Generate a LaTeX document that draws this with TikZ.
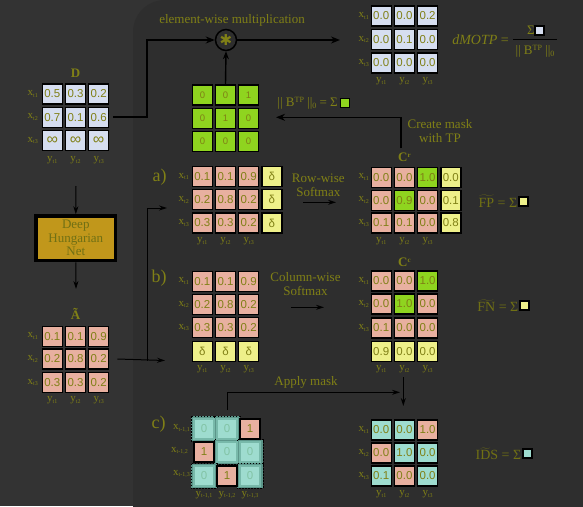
\documentclass[tikz,border=0pt]{standalone}
\usepackage{fontspec}
\setmainfont{Liberation Serif}
\newfontfamily\numfont{Liberation Sans}
\newfontfamily\symfont{DejaVu Sans}
\usetikzlibrary{arrows.meta}
\definecolor{olive}{RGB}{128,128,22}
\definecolor{olivedk}{RGB}{112,112,20}
\definecolor{bgout}{RGB}{51,51,51}
\definecolor{bgin}{RGB}{46,46,46}
\definecolor{cblue}{RGB}{214,222,240}
\definecolor{cpink}{RGB}{232,176,160}
\definecolor{cgreen}{RGB}{143,212,31}
\definecolor{cyel}{RGB}{238,240,138}
\definecolor{cteal}{RGB}{158,220,207}
\definecolor{tealbd}{RGB}{120,185,170}
\definecolor{tealbg}{RGB}{92,150,138}
\definecolor{tealtx}{RGB}{130,195,165}
\definecolor{gold}{RGB}{193,151,27}
\newcommand\xlab[1]{x\raisebox{-1.8pt}{\fontsize{6}{6}\selectfont #1}}
\newcommand\ylab[1]{y\raisebox{-1.8pt}{\fontsize{6}{6}\selectfont #1}}
\newcommand\infy{{\fontsize{16}{16}\selectfont ∞}}
\newcommand\mrow[4]{%
  \foreach \cc/\vv [count=\j] in {#4} {\node[cell, fill=\cc] (#1\j) at ({#2+(\j-1)*23.2},#3) {\vv};}}
\tikzset{
  cell/.style={draw=black, line width=1.4pt, minimum size=20pt, inner sep=0pt, text=olive,
    font=\numfont\fontsize{11.5}{12}\selectfont},
  lbl/.style={text=olive, inner sep=0pt, font=\fontsize{13}{15}\selectfont},
  big/.style={text=olive, inner sep=0pt, font=\fontsize{18}{20}\selectfont},
  xl/.style={text=olive, inner sep=0pt, anchor=east, font=\fontsize{11}{12}\selectfont},
  yl/.style={text=olive, inner sep=0pt, font=\fontsize{11}{12}\selectfont},
  sq/.style={draw=black, line width=1.8pt, minimum size=9pt, inner sep=0pt},
  tarr/.style={-{Stealth[length=9pt,width=7pt]}, line width=2pt},
  marr/.style={-{Stealth[length=8pt,width=6pt]}, line width=1.4pt},
  narr/.style={-{Stealth[length=8pt,width=5pt]}, line width=1pt},
}
\begin{document}
\begin{tikzpicture}[x=1pt,y=-1pt]
\begin{scope}
\clip (0,0) rectangle (583,506);
\fill[bgout] (0,0) rectangle (583,506);
\fill[bgin, rounded corners=32pt] (133,560) -- (133,0) -- (640,0) -- (640,560) -- cycle;
\end{scope}
\useasboundingbox (0,0) rectangle (583,506);

% ---------- D ----------
\node[lbl, font=\fontsize{13}{15}\selectfont\bfseries] (Dt) at (75.5,73) {D};
\mrow{D1-}{52.3}{93.8}{cblue/0.5,cblue/0.3,cblue/0.2}
\mrow{D2-}{52.3}{117.2}{cblue/0.7,cblue/0.1,cblue/0.6}
\mrow{D3-}{52.3}{140.5}{cblue/\infy,cblue/\infy,cblue/\infy}
\node[xl] (Dx1) at (38,93.8) {\xlab{t1}};
\node[xl] (Dx2) at (38,117.2) {\xlab{t2}};
\node[xl] (Dx3) at (38,140.5) {\xlab{t3}};
\node[yl] (Dy1) at (52.3,160) {\ylab{t1}};
\node[yl] (Dy2) at (75.5,160) {\ylab{t2}};
\node[yl] (Dy3) at (98.7,160) {\ylab{t3}};

% ---------- Deep Hungarian Net ----------
\node[draw=black, line width=3.5pt, fill=gold, minimum width=79.5pt, minimum height=44.5pt,
  inner sep=0pt, align=center, text=olivedk, font=\fontsize{13}{13.5}\selectfont] (dhn) at (75.8,238.3)
  {Deep\\Hungarian\\Net};
\coordinate (a0s) at (76,186);
\draw[narr] (a0s) -- (dhn.north);
\coordinate (a1e) at (76,289);
\draw[narr] (dhn.south) -- (a1e);

% ---------- A tilde ----------
\node[lbl, font=\fontsize{13}{15}\selectfont\bfseries] (At) at (75.5,314) {Ã};
\mrow{A1-}{52.3}{336.2}{cpink/0.1,cpink/0.1,cpink/0.9}
\mrow{A2-}{52.3}{359}{cpink/0.2,cpink/0.8,cpink/0.2}
\mrow{A3-}{52.3}{382.4}{cpink/0.3,cpink/0.3,cpink/0.2}
\node[xl] (Ax1) at (38,336.2) {\xlab{t1}};
\node[xl] (Ax2) at (38,359) {\xlab{t2}};
\node[xl] (Ax3) at (38,382.4) {\xlab{t3}};
\node[yl] (Ay1) at (52.3,400) {\ylab{t1}};
\node[yl] (Ay2) at (75.5,400) {\ylab{t2}};
\node[yl] (Ay3) at (98.7,400) {\ylab{t3}};

% ---------- multiplication ----------
\node[lbl] (ewm) at (232,20) {element-wise multiplication};
\node[circle, draw=black, line width=1.5pt, fill=bgin, minimum size=21pt, inner sep=0pt,
  text=olive, font=\symfont\bfseries\fontsize{15}{15}\selectfont] (mul) at (226,40) {✱};
\coordinate (j1) at (147,40);
\draw[tarr] ([xshift=4pt]D2-3.east) -| (j1) -- (mul.west);
\coordinate (rin) at (340,40);
\draw[tarr] (mul.east) -- (rin);

% ---------- green mask ----------
\tikzset{gcell/.style={cell, fill=cgreen, font=\numfont\fontsize{9.5}{10}\selectfont}}
\foreach \vv [count=\j] in {0,0,1} {\node[gcell] (M1-\j) at ({202.5+(\j-1)*23},95) {\vv};}
\foreach \vv [count=\j] in {0,1,0} {\node[gcell] (M2-\j) at ({202.5+(\j-1)*23},118.2) {\vv};}
\foreach \vv [count=\j] in {0,0,0} {\node[gcell] (M3-\j) at ({202.5+(\j-1)*23},141.5) {\vv};}
\draw[marr] (M1-2.north) -- (mul.south);
\node[lbl, anchor=east] (btp) at (338,103) {|| B\raisebox{4pt}{\fontsize{8}{8}\selectfont TP} ||\raisebox{-2pt}{\fontsize{8}{8}\selectfont 0} = Σ};
\node[sq, fill=cgreen] (btpsq) at (345,103) {};

% ---------- top result ----------
\mrow{R1-}{381.2}{16}{cblue/0.0,cblue/0.0,cblue/0.2}
\mrow{R2-}{381.2}{39.5}{cblue/0.0,cblue/0.1,cblue/0.0}
\mrow{R3-}{381.2}{63}{cblue/0.0,cblue/0.0,cblue/0.0}
\node[xl] (Rx1) at (369,16) {\xlab{t1}};
\node[xl] (Rx2) at (369,39.5) {\xlab{t2}};
\node[xl] (Rx3) at (369,63) {\xlab{t3}};
\node[yl] (Ry1) at (381.2,81) {\ylab{t1}};
\node[yl] (Ry2) at (404.4,81) {\ylab{t2}};
\node[yl] (Ry3) at (427.6,81) {\ylab{t3}};
\node[lbl, anchor=east, font=\fontsize{14}{16}\selectfont] (dmotp) at (509,40) {\textit{dMOTP} =};
\node[lbl] (num) at (531,30) {Σ};
\node[sq, fill=cblue] (numsq) at (539.5,30.5) {};
\coordinate (barl) at (513,39.5);
\coordinate (barr) at (557,39.5);
\draw[black, line width=0.9pt] (barl) -- (barr);
\node[lbl] (den) at (535,51) {|| B\raisebox{4pt}{\fontsize{8}{8}\selectfont TP} ||\raisebox{-2pt}{\fontsize{8}{8}\selectfont 0}};

% ---------- create mask ----------
\node[lbl, align=center, font=\fontsize{13}{14}\selectfont] (cmask) at (440,131) {Create mask\\with TP};
\coordinate (cr0) at (401,148);
\coordinate (mk) at (276,117.3);
\draw[tarr, line width=1.6pt] (cr0) |- (mk);

% ---------- a) ----------
\node[big] (la) at (159.5,177) {a)};
\mrow{P1-}{202.3}{176.5}{cpink/0.1,cpink/0.1,cpink/0.9,cyel/δ}
\mrow{P2-}{202.3}{199.7}{cpink/0.2,cpink/0.8,cpink/0.2,cyel/δ}
\mrow{P3-}{202.3}{223}{cpink/0.3,cpink/0.3,cpink/0.2,cyel/δ}
\node[xl] (Px1) at (189,176.5) {\xlab{t1}};
\node[xl] (Px2) at (189,199.7) {\xlab{t2}};
\node[xl] (Px3) at (189,223) {\xlab{t3}};
\node[yl] (Py1) at (202.3,241) {\ylab{t1}};
\node[yl] (Py2) at (225.5,241) {\ylab{t2}};
\node[yl] (Py3) at (248.7,241) {\ylab{t3}};
\node[lbl, align=center, font=\fontsize{13}{14.5}\selectfont] (rws) at (318.3,185.5) {Row-wise\\Softmax};
\coordinate (sa1) at (303,202.3);
\coordinate (sa2) at (336,202.3);
\draw[narr] (sa1) -- (sa2);

% ---------- C^r ----------
\node[lbl, font=\fontsize{13}{15}\selectfont\bfseries] (crt) at (404.4,157) {C\raisebox{4pt}{\fontsize{7}{7}\selectfont r}};
\mrow{C1-}{381.2}{177.2}{cpink/0.0,cpink/0.0,cgreen/1.0,cyel/0.0}
\mrow{C2-}{381.2}{200.2}{cpink/0.0,cgreen/0.9,cpink/0.0,cyel/0.1}
\mrow{C3-}{381.2}{223}{cpink/0.1,cpink/0.1,cpink/0.0,cyel/0.8}
\node[xl] (Cx1) at (369,177.2) {\xlab{t1}};
\node[xl] (Cx2) at (369,200.2) {\xlab{t2}};
\node[xl] (Cx3) at (369,223) {\xlab{t3}};
\node[yl] (Cy1) at (381.2,241) {\ylab{t1}};
\node[yl] (Cy2) at (404.4,241) {\ylab{t2}};
\node[yl] (Cy3) at (427.6,241) {\ylab{t3}};
\node[lbl, anchor=east, text=olivedk, font=\fontsize{14}{16}\selectfont] (fp) at (517.5,201.3) {$\widetilde{\textrm{FP}}$ = Σ};
\node[sq, fill=cyel] (fpsq) at (523.8,201.3) {};

% ---------- b) ----------
\node[big] (lb) at (159,278) {b)};
\mrow{Q1-}{202.3}{281.2}{cpink/0.1,cpink/0.1,cpink/0.9}
\mrow{Q2-}{202.3}{304.4}{cpink/0.2,cpink/0.8,cpink/0.2}
\mrow{Q3-}{202.3}{327.6}{cpink/0.3,cpink/0.3,cpink/0.2}
\mrow{Q4-}{202.3}{351.5}{cyel/δ,cyel/δ,cyel/δ}
\node[xl] (Qx1) at (189,281.2) {\xlab{t1}};
\node[xl] (Qx2) at (189,304.4) {\xlab{t2}};
\node[xl] (Qx3) at (189,327.6) {\xlab{t3}};
\node[yl] (Qy1) at (202.3,369) {\ylab{t1}};
\node[yl] (Qy2) at (225.5,369) {\ylab{t2}};
\node[yl] (Qy3) at (248.7,369) {\ylab{t3}};
\node[lbl, align=center, font=\fontsize{13}{14}\selectfont] (cws) at (305.5,284.5) {Column-wise\\Softmax};
\coordinate (sb1) at (291,307.3);
\coordinate (sb2) at (324,307.3);
\draw[narr] (sb1) -- (sb2);

% ---------- C^c ----------
\node[lbl, font=\fontsize{13}{15}\selectfont\bfseries] (cct) at (404.4,262) {C\raisebox{4pt}{\fontsize{7}{7}\selectfont c}};
\mrow{K1-}{381.2}{281}{cpink/0.0,cpink/0.0,cgreen/1.0}
\mrow{K2-}{381.2}{304}{cpink/0.0,cgreen/1.0,cpink/0.0}
\mrow{K3-}{381.2}{327.8}{cpink/0.1,cpink/0.0,cpink/0.0}
\mrow{K4-}{381.2}{351.5}{cyel/0.9,cyel/0.0,cyel/0.0}
\node[xl] (Kx1) at (369,281) {\xlab{t1}};
\node[xl] (Kx2) at (369,304) {\xlab{t2}};
\node[xl] (Kx3) at (369,327.8) {\xlab{t3}};
\node[yl] (Ky1) at (381.2,369) {\ylab{t1}};
\node[yl] (Ky2) at (404.4,369) {\ylab{t2}};
\node[yl] (Ky3) at (427.6,369) {\ylab{t3}};
\node[lbl, anchor=east, text=olivedk, font=\fontsize{14}{16}\selectfont] (fn) at (518.5,305.7) {$\widetilde{\textrm{FN}}$ = Σ};
\node[sq, fill=cyel] (fnsq) at (524.7,305.7) {};

% ---------- left connectors ----------
\coordinate (bj) at (147,360.5);
\coordinate (bend) at (165,360.5);
\coordinate (aend) at (167,208);
\draw[narr] ([xshift=8pt]A2-3.east) -- (bend);
\draw[narr] (bj) |- (aend);

% ---------- c) ----------
\node[big] (lc) at (158.5,424) {c)};
\foreach \cx/\cy in {204/428.8, 227/428.8, 227/452, 250/452, 204/476, 250/476} {
  \fill[tealbg] (\cx-12.8,\cy-12.4) rectangle (\cx+12.8,\cy+12.4);
  \draw[black, dashed, line width=0.5pt, dash pattern=on 1.5pt off 1.5pt] (\cx-12.8,\cy-12.4) rectangle (\cx+12.8,\cy+12.4);
}
\tikzset{tcell/.style={cell, fill=cteal, draw=tealbd, text=tealtx}}
\node[tcell] (G1-1) at (204,428.8) {0};
\node[tcell] (G1-2) at (227,428.8) {0};
\node[cell, fill=cpink] (G1-3) at (250,428.8) {1};
\node[cell, fill=cpink] (G2-1) at (204,452) {1};
\node[tcell] (G2-2) at (227,452) {0};
\node[tcell] (G2-3) at (250,452) {0};
\node[tcell] (G3-1) at (204,476) {0};
\node[cell, fill=cpink] (G3-2) at (227,476) {1};
\node[tcell] (G3-3) at (250,476) {0};
\node[xl] (Gx1) at (190,428.8) {\xlab{t-1,1}};
\node[xl] (Gx2) at (188,451) {\xlab{t-1,2}};
\node[xl] (Gx3) at (190,474) {\xlab{t-1,3}};
\node[yl] (Gy1) at (204,495) {\ylab{t-1,1}};
\node[yl] (Gy2) at (227,495) {\ylab{t-1,2}};
\node[yl] (Gy3) at (250,495) {\ylab{t-1,3}};
\node[lbl] (apm) at (306,382.5) {Apply mask};
\coordinate (ape) at (400,392.3);
\draw[narr] ([yshift=8pt]G1-2.north) |- (ape);
\coordinate (cc0) at (403.3,377);
\coordinate (ids0) at (403.3,406);
\draw[narr, line width=1.2pt] (cc0) -- (ids0);

% ---------- IDS result ----------
\mrow{I1-}{381.2}{430}{cteal/0.0,cteal/0.0,cpink/1.0}
\mrow{I2-}{381.2}{453}{cpink/0.0,cteal/1.0,cteal/0.0}
\mrow{I3-}{381.2}{476}{cteal/0.1,cpink/0.0,cteal/0.0}
\node[xl] (Ix1) at (369,430) {\xlab{t1}};
\node[xl] (Ix2) at (369,453) {\xlab{t2}};
\node[xl] (Ix3) at (369,476) {\xlab{t3}};
\node[yl] (Iy1) at (381.2,494) {\ylab{t1}};
\node[yl] (Iy2) at (404.4,494) {\ylab{t2}};
\node[yl] (Iy3) at (427.6,494) {\ylab{t3}};
\node[lbl, anchor=east, text=olivedk, font=\fontsize{14}{16}\selectfont] (ids) at (521.5,453.8) {I$\widetilde{\textrm{D}}$S = Σ};
\node[sq, fill=cteal] (idssq) at (527.5,453.8) {};
\end{tikzpicture}
\end{document}
